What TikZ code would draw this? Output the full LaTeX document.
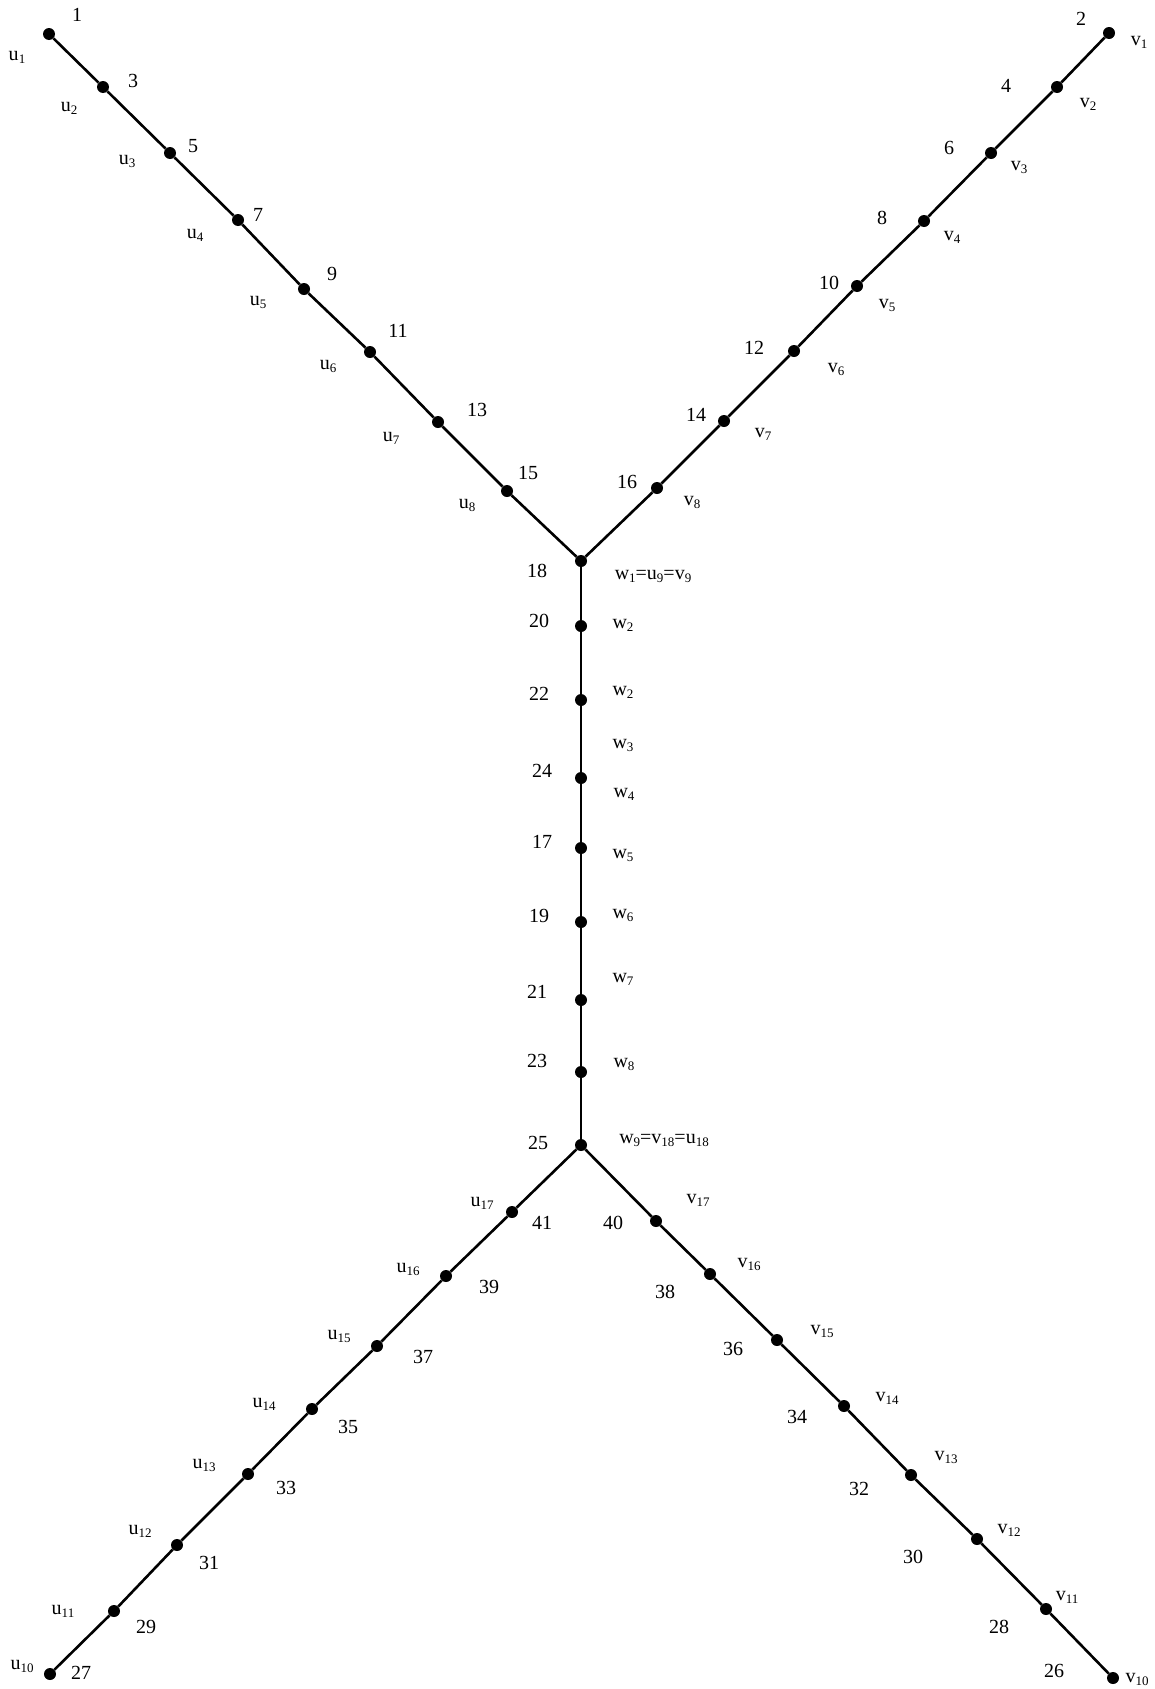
\documentclass[tikz,border=0pt]{standalone}
\usepackage{fontspec}
\setmainfont{Liberation Serif}
\newcommand\lbsub[2]{#1\raisebox{-3pt}{\fontsize{13}{14}\selectfont #2}}
\begin{document}
\begin{tikzpicture}[x=1pt,y=-1pt,
  vtx/.style={circle,fill=black,inner sep=0pt,minimum size=12pt},
  edge/.style={line width=2.6pt,black},
  num/.style={inner sep=0pt,font=\fontsize{20}{24}\selectfont},
  lbl/.style={inner sep=0pt,font=\fontsize{20}{24}\selectfont}]
\useasboundingbox (0,0) rectangle (1154,1689);
% vertices
\foreach \n/\x/\y in {u1/49/34,u2/103/87,u3/170/153,u4/238/220,u5/304/289,u6/370/352,u7/438/422,u8/507/491,
  w1/581/561,v1/1109/33,v2/1057/87,v3/991/153,v4/924/221,v5/857/286,v6/794/351,v7/724/421,v8/657/488,
  w2/581/626,w3/581/700,w4/581/778,w5/581/848,w6/581/922,w7/581/1000,w8/581/1072,w9/581/1145,
  a17/512/1212,a16/446/1276,a15/377/1346,a14/312/1409,a13/248/1474,a12/177/1545,a11/114/1611,a10/50/1674,
  b17/656/1221,b16/710/1274,b15/777/1340,b14/844/1406,b13/911/1475,b12/977/1539,b11/1046/1609,b10/1113/1678}
  \node[vtx] (\n) at (\x,\y) {};
% edges
\draw[edge] (u1) -- (u2) -- (u3) -- (u4) -- (u5) -- (u6) -- (u7) -- (u8) -- (w1);
\draw[edge] (v1) -- (v2) -- (v3) -- (v4) -- (v5) -- (v6) -- (v7) -- (v8) -- (w1);
\draw[edge] (w1) -- (w2) -- (w3) -- (w4) -- (w5) -- (w6) -- (w7) -- (w8) -- (w9);
\draw[edge] (w9) -- (a17) -- (a16) -- (a15) -- (a14) -- (a13) -- (a12) -- (a11) -- (a10);
\draw[edge] (w9) -- (b17) -- (b16) -- (b15) -- (b14) -- (b13) -- (b12) -- (b11) -- (b10);
% number labels
\foreach \t/\x/\y in {1/77/15,3/133/81,5/193/146,7/258/215,9/332/274,11/398/331,13/477/410,15/528/473,
  2/1081/19,4/1006/86,6/949/148,8/882/218,10/829/283,12/754/348,14/696/415,16/627/482,
  18/537/571,20/539/621,22/539/694,24/542/771,17/542/842,19/539/916,21/537/992,23/537/1061,25/538/1143,
  41/542/1223,39/489/1287,37/423/1357,35/348/1427,33/286/1488,31/209/1563,29/146/1627,27/81/1673,
  40/613/1223,38/665/1292,36/733/1349,34/797/1417,32/859/1489,30/913/1557,28/999/1627,26/1054/1671}
  \node[num] (n\t) at (\x,\y) {\t};
% letter labels
\foreach \nm/\l/\s/\x/\y in {lu1/u/1/17/57,lu2/u/2/69/108,lu3/u/3/127/161,lu4/u/4/195/235,lu5/u/5/258/302,
  lu6/u/6/328/366,lu7/u/7/391/438,lu8/u/8/467/505,
  lv1/v/1/1139/42,lv2/v/2/1088/104,lv3/v/3/1019/167,lv4/v/4/952/237,lv5/v/5/887/305,lv6/v/6/836/369,
  lv7/v/7/763/434,lv8/v/8/692/502,
  lw2a/w/2/623/625,lw2b/w/2/623/692,lw3/w/3/623/745,lw4/w/4/624/794,lw5/w/5/623/855,lw6/w/6/623/915,
  lw7/w/7/623/979,lw8/w/8/624/1064,
  lu17/u/17/482/1203,lu16/u/16/408/1269,lu15/u/15/339/1336,lu14/u/14/264/1404,lu13/u/13/204/1465,
  lu12/u/12/140/1531,lu11/u/11/63/1611,lu10/u/10/22/1666,
  lv17/v/17/698/1200,lv16/v/16/749/1264,lv15/v/15/822/1331,lv14/v/14/887/1398,lv13/v/13/946/1457,
  lv12/v/12/1009/1530,lv11/v/11/1067/1597,lv10/v/10/1137/1679}
  \node[lbl] (\nm) at (\x,\y) {\lbsub{\l}{\s}};
\node[lbl] (lw1) at (653,576) {\lbsub{w}{1}=\lbsub{u}{9}=\lbsub{v}{9}};
\node[lbl] (lw9) at (664,1140) {\lbsub{w}{9}=\lbsub{v}{18}=\lbsub{u}{18}};
\end{tikzpicture}
\end{document}
